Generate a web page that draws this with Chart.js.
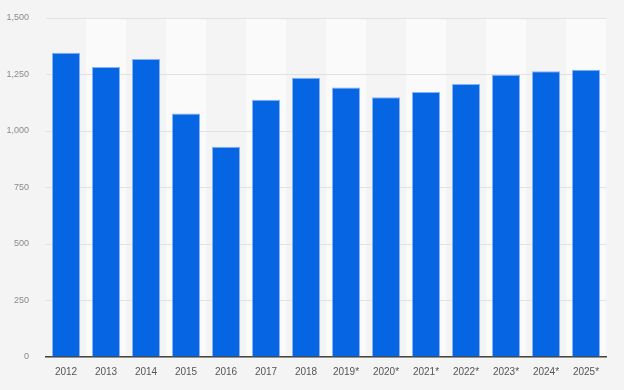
<!DOCTYPE html>
<html>
<head>
<meta charset="utf-8">
<script src="https://cdn.jsdelivr.net/npm/chart.js@4/dist/chart.umd.min.js"></script>
<style>
  html, body { margin: 0; padding: 0; background: #f4f4f4; }
  #wrap { width: 624px; height: 390px; }
</style>
</head>
<body>
<div id="wrap"><canvas id="myChart" width="624" height="390"></canvas></div>
<script>
var years = ['2012', '2013', '2014', '2015', '2016', '2017', '2018', '2019*', '2020*', '2021*', '2022*', '2023*', '2024*', '2025*'];
var values = [1346, 1283, 1319, 1077, 930, 1138, 1236, 1192, 1149, 1173, 1208, 1249, 1264, 1271];
var yTicks = [0, 250, 500, 750, 1000, 1250, 1500];

// light stripes behind every second column
const stripes = {
    id: 'stripes',
    beforeDraw(chart) {
        const c = chart.ctx;
        const area = chart.chartArea;
        const x = chart.scales.x;
        c.save();
        c.fillStyle = '#f4f4f4';
        c.fillRect(0, 0, chart.width, chart.height);
        const w = (area.right - area.left) / years.length;
        c.fillStyle = '#fafafa';
        for (let i = 1; i < years.length; i += 2) {
            const cx = x.getPixelForValue(i);
            c.fillRect(cx - w / 2, area.top, w, area.bottom - area.top);
        }
        c.restore();
    }
};

const ctx = document.getElementById('myChart').getContext('2d');
const myChart = new Chart(ctx, {
    type: 'bar',
    data: {
        labels: years,
        datasets: [{
            data: values,
            backgroundColor: '#0665e2',
            borderColor: 'rgba(120,172,250,0.9)',
            borderWidth: 1,
            categoryPercentage: 1,
            barPercentage: 0.7
        }]
    },
    options: {
        responsive: false,
        animation: false,
        layout: { padding: { top: 0, right: 18, left: 0, bottom: 0 } },
        plugins: {
            legend: { display: false },
            tooltip: { enabled: false }
        },
        scales: {
            y: {
                min: 0,
                max: 1500,
                afterBuildTicks(scale) {
                    scale.ticks = yTicks.map(v => ({ value: v }));
                },
                afterFit(scale) {
                    scale.width = 46;
                    scale.paddingTop = 18;
                    scale.paddingBottom = 0;
                },
                border: { display: false },
                grid: { color: '#e2e2e2', drawTicks: false },
                ticks: {
                    padding: 17,
                    color: '#8a8a8a',
                    font: { family: 'Liberation Sans', size: 9 },
                    callback: v => v.toLocaleString('en-US')
                }
            },
            x: {
                afterFit(scale) { scale.height = 33; },
                border: { display: true, color: '#444', width: 1.5 },
                grid: { display: false, drawTicks: false },
                ticks: {
                    padding: 9,
                    color: '#555',
                    maxRotation: 0,
                    autoSkip: false,
                    font: { family: 'Liberation Sans', size: 10 }
                }
            }
        }
    },
    plugins: [stripes]
});
</script>
</body>
</html>
